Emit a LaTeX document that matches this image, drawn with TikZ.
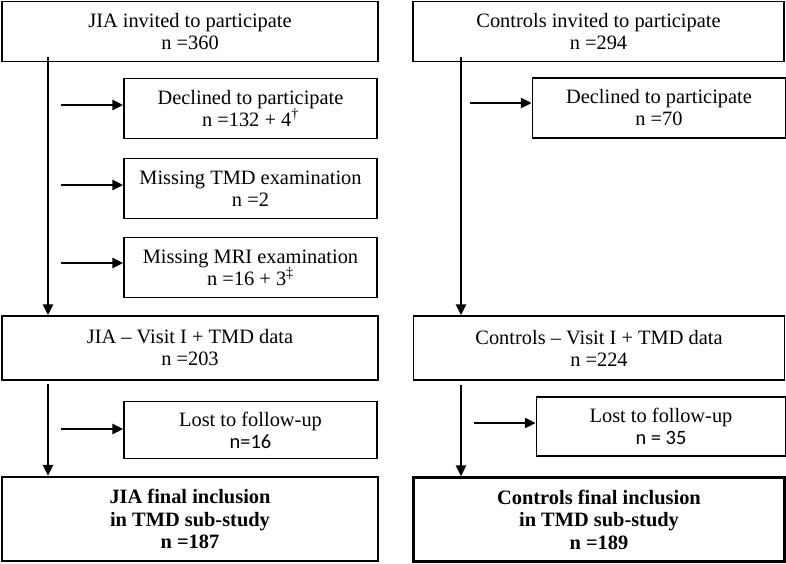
\documentclass[tikz,border=0pt]{standalone}
\usepackage{fontspec}
\setmainfont{Liberation Serif}
\newfontfamily\calibri{Carlito}
\usetikzlibrary{arrows.meta}

\begin{document}
\begin{tikzpicture}[x=1pt,y=-1pt]
        \tikzstyle{box} = [draw,line width=1.5pt,align=center,inner sep=0pt,
          font=\fontsize{20.4}{22}\selectfont]
        \tikzstyle{mainL} = [box,minimum width=376pt,minimum height=60pt]
        \tikzstyle{mainR} = [box,minimum width=371pt,minimum height=60pt]
        \tikzstyle{side} = [box,minimum width=253pt,minimum height=60pt]
        \tikzstyle{final} = [box,line width=2.4pt,minimum height=84pt,
          font=\fontsize{20.4}{22.5}\selectfont\bfseries]
        \tikzstyle{arr} = [line width=2.8pt,-{Triangle[length=11pt,width=10pt]}]
        \useasboundingbox (0,0) rectangle (786,563);

        % left column: JIA
        \node[mainL] (jia) at (190,31.5) {JIA invited to participate\\n =360};
        \node[mainL,minimum height=64pt] (jiav) at (190,348) {JIA -- Visit I + TMD data\\n =203};
        \node[final,minimum width=376pt] (jiaf) at (190,519) {JIA final inclusion\\in TMD sub-study\\n =187};

        % right column: controls
        \node[mainR] (ctl) at (598.5,31.5) {Controls invited to participate\\n =294};
        \node[mainR,minimum height=64pt] (ctlv) at (599,348) {Controls -- Visit I + TMD data\\n =224};
        \node[final,minimum width=371pt] (ctlf) at (599,519.5) {Controls final inclusion\\in TMD sub-study\\n =189};

        % exclusion boxes
        \foreach \l/\x/\y/\t in {decj/250.5/108.5/{Declined to participate\\n =132 + 4\textsuperscript{\dag}},
          tmdj/250.5/188.5/{Missing TMD examination\\n =2},
          mrij/250.5/267.5/{Missing MRI examination\\n =16 + 3\textsuperscript{\ddag}},
          decc/659/108/{Declined to participate\\n =70}} {
          \node[side] (\l) at (\x,\y) {\t};
        }
        \node[side,minimum height=57pt] (lostj) at (250.5,430) {Lost to follow-up\\{\calibri n=16}};
        \node[side,minimum width=249pt,minimum height=59pt] (lostc) at (661,426.5) {Lost to follow-up\\{\calibri n = 35}};

        % main flow
        \draw[arr] ([xshift=-142pt,yshift=5pt]jia.south) -- ([xshift=-142pt]jiav.north);
        \draw[arr] ([xshift=-142pt,yshift=-3pt]jiav.south) -- ([xshift=-142pt]jiaf.north);
        \draw[arr] ([xshift=-137.5pt,yshift=5pt]ctl.south) -- ([xshift=-138pt]ctlv.north);
        \draw[arr] ([xshift=-138pt,yshift=-4pt]ctlv.south) -- ([xshift=-138pt]ctlf.north);

        % side exits
        \foreach \b/\dy in {decj/3.5, tmdj/3.5, mrij/4.5, lostj/1} {
          \draw[arr] ([xshift=-62pt,yshift=\dy pt]\b.west) -- ([yshift=\dy pt]\b.west);
        }
        \foreach \b/\dy in {decc/5, lostc/3.5} {
          \draw[arr] ([xshift=-62pt,yshift=\dy pt]\b.west) -- ([yshift=\dy pt]\b.west);
        }
\end{tikzpicture}
\end{document}
